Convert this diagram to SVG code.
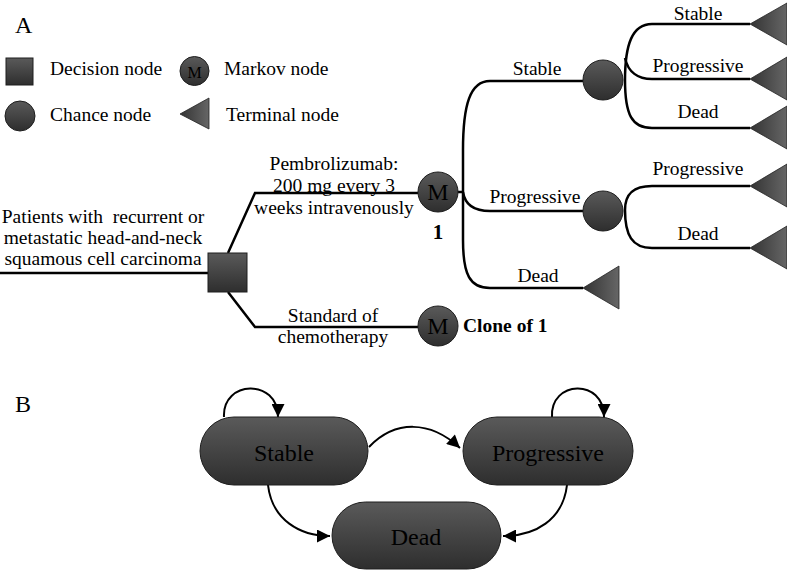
<svg xmlns="http://www.w3.org/2000/svg" width="787" height="570" viewBox="0 0 787 570">
<defs>
<linearGradient id="gv" x1="0" y1="0" x2="0" y2="1">
<stop offset="0" stop-color="#5a5a5a"/>
<stop offset="1" stop-color="#2e2e2e"/>
</linearGradient>
<linearGradient id="gh" x1="0" y1="0" x2="1" y2="0">
<stop offset="0" stop-color="#333"/>
<stop offset="1" stop-color="#666"/>
</linearGradient>
<marker id="ah" viewBox="0 0 10 10" markerUnits="userSpaceOnUse" markerWidth="15" markerHeight="13" refX="10" refY="5" orient="auto">
<path d="M0,0 L10,5 L0,10 z" fill="#000"/>
</marker>
</defs>
<style>
text{font-family:"Liberation Serif","Times New Roman",serif;fill:#000}
.lbl{font-size:19.5px;text-anchor:middle}
.leg{font-size:19.5px}
.big{font-size:24px}
.mk{font-size:24px;text-anchor:middle}
.bold{font-weight:bold;font-size:19.5px}
.node{fill:url(#gv);stroke:#1e1e1e;stroke-width:1}
.term{fill:url(#gh);stroke:#222;stroke-width:0.8}
.ln{fill:none;stroke:#000;stroke-width:2.5}
.arr{fill:none;stroke:#000;stroke-width:2;marker-end:url(#ah)}
.st{font-size:24px;text-anchor:middle}
</style>
<rect width="787" height="570" fill="#fff"/>

<text class="big" x="15" y="33">A</text>
<text class="big" x="15" y="412">B</text>

<g id="legend">
<rect class="node" x="6" y="58" width="27" height="27"/>
<text class="leg" x="50" y="75">Decision node</text>
<circle class="node" cx="194.5" cy="71" r="14.5"/>
<text x="194.5" y="78" style="font-size:16px;text-anchor:middle">M</text>
<text class="leg" x="224" y="75">Markov node</text>
<circle class="node" cx="20" cy="116" r="15"/>
<text class="leg" x="50" y="121">Chance node</text>
<polygon class="term" points="180,114 209,98 209,129"/>
<text class="leg" x="226" y="121">Terminal node</text>
</g>

<g id="connectors">
<path class="ln" d="M0 273 L208 273"/>
<path class="ln" d="M228 253 L255 193 L418 193"/>
<path class="ln" d="M228 292 L255 327 L418 327"/>
<path class="ln" d="M457 192 L463 192"/>
<path class="ln" d="M583 81 L490 81 C470 81 463 105 463 150 L463 240 C463 275 470 288 490 288 L583 288"/>
<path class="ln" d="M463 192 C465 205 475 211 490 211 L583 211"/>
<path class="ln" d="M750 24 L652 24 C632 24 625 45 625 80 C625 115 632 128 652 128 L750 128"/>
<path class="ln" d="M625 58 C628 72 638 79 652 79 L750 79"/>
<path class="ln" d="M750 186 L652 186 C632 186 625 195 625 210 C625 235 632 248 652 248 L750 248"/>
<path class="arr" d="M224 417 C222 380 278 378 278 417"/>
<path class="arr" d="M552 417 C550 380 604 378 604 417"/>
<path class="arr" d="M369 447 C395 420 430 420 460 448"/>
<path class="arr" d="M268 485 C272 520 300 536 330 536"/>
<path class="arr" d="M567 485 C563 520 535 536 503 536"/>
</g>

<g id="root">
<text class="lbl" x="103" y="223" style="white-space:pre">Patients with  recurrent or</text>
<text class="lbl" x="103" y="244">metastatic head-and-neck</text>
<text class="lbl" x="103" y="265">squamous cell carcinoma</text>
</g>
<g id="decision">
<rect class="node" x="208" y="253" width="39" height="39"/>
</g>
<g id="arm1-label">
<text class="lbl" x="334" y="170">Pembrolizumab:</text>
<text class="lbl" x="334" y="192">200 mg every 3</text>
<text class="lbl" x="334" y="214">weeks intravenously</text>
</g>
<g id="arm2-label">
<text class="lbl" x="333" y="322">Standard of</text>
<text class="lbl" x="333" y="343">chemotherapy</text>
</g>
<g id="markov1">
<circle class="node" cx="438" cy="192" r="20"/>
<text class="mk" x="438" y="200">M</text>
<text class="bold" x="438" y="239" style="text-anchor:middle;font-size:21px">1</text>
</g>
<g id="markov2">
<circle class="node" cx="438" cy="326" r="20"/>
<text class="mk" x="438" y="334">M</text>
<text class="bold" x="463" y="332">Clone of 1</text>
</g>
<g id="branch-labels">
<text class="lbl" x="537" y="75">Stable</text>
<text class="lbl" x="535" y="203">Progressive</text>
<text class="lbl" x="538" y="282">Dead</text>
<text class="lbl" x="698" y="20">Stable</text>
<text class="lbl" x="698" y="72">Progressive</text>
<text class="lbl" x="698" y="118">Dead</text>
<text class="lbl" x="698" y="175">Progressive</text>
<text class="lbl" x="698" y="240">Dead</text>
</g>
<g id="chance1"><circle class="node" cx="603" cy="80" r="20"/></g>
<g id="chance2"><circle class="node" cx="603" cy="211" r="20"/></g>
<g id="term-dead"><polygon class="term" points="583,288 619,266 619,309"/></g>
<g id="term1"><polygon class="term" points="750,24 787,3 787,45"/></g>
<g id="term2"><polygon class="term" points="750,79 787,57 787,100"/></g>
<g id="term3"><polygon class="term" points="750,128 787,106 787,149"/></g>
<g id="term4"><polygon class="term" points="750,186 787,164 787,207"/></g>
<g id="term5"><polygon class="term" points="750,248 787,226 787,269"/></g>

<g id="state-stable">
<rect class="node" x="200" y="417" width="168" height="68" rx="34"/>
<text class="st" x="284" y="461">Stable</text>
</g>
<g id="state-progressive">
<rect class="node" x="463" y="417" width="170" height="68" rx="34"/>
<text class="st" x="548" y="461">Progressive</text>
</g>
<g id="state-dead">
<rect class="node" x="332" y="502" width="169" height="67" rx="33.5"/>
<text class="st" x="416" y="545">Dead</text>
</g>
</svg>
